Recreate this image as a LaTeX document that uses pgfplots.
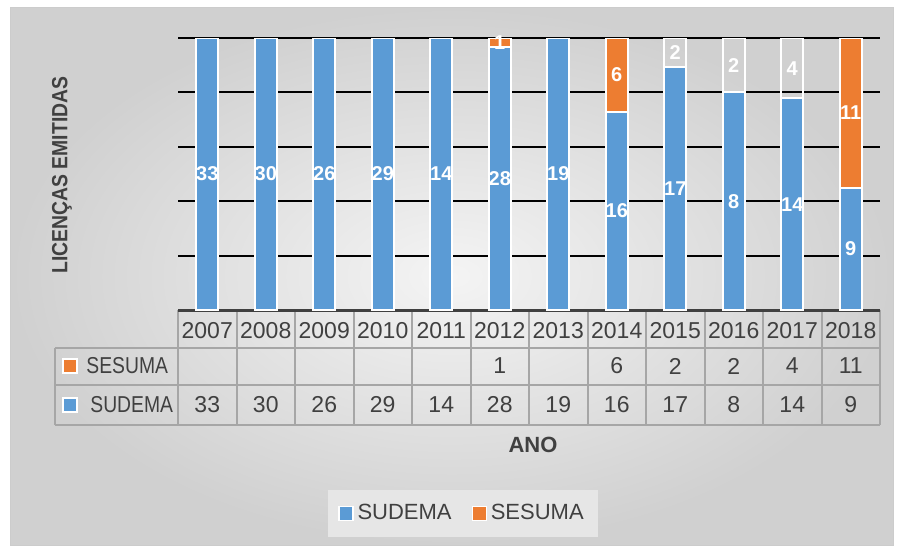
\documentclass[border=0pt]{standalone}
\usepackage{pgfplots}
\pgfplotsset{compat=1.18}
\usepackage{pgfplotstable}
\usepackage{graphicx}
\usepackage{fontspec}
\setmainfont{Liberation Sans}

\definecolor{sudema}{HTML}{5B9BD5}
\definecolor{sesuma}{HTML}{ED7D31}
\definecolor{txt}{HTML}{404040}
\definecolor{tblline}{HTML}{A6A6A6}
\definecolor{bgin}{HTML}{F4F4F4}
\definecolor{bgout}{HTML}{D0D0D0}
\definecolor{legbg}{HTML}{E6E6E6}

% licencas por ano; sesumaw = parte SESUMA desenhada sem preenchimento
\pgfplotstableread{
x year sudema sesuma sesumaw
0  2007 33 0  0
1  2008 30 0  0
2  2009 26 0  0
3  2010 29 0  0
4  2011 14 0  0
5  2012 28 1  0
6  2013 19 0  0
7  2014 16 6  0
8  2015 17 0  2
9  2016 8  0  2
10 2017 14 0  4
11 2018 9  11 0
}\licencas

\pgfplotsset{
  base/.style={
    at={(89pt,119pt)}, anchor=south west,
    scale only axis, width=351pt, height=136pt,
    xmin=-0.5, xmax=11.5, ymin=0, ymax=100,
    /pgf/number format/assume math mode=true,
  },
}

\begin{document}
\begin{tikzpicture}
\useasboundingbox (0,0) rectangle (452.5pt,274pt);
\fill[white] (0,0) rectangle (452.5pt,274pt);
\shade[inner color=bgin, outer color=bgout] (5pt,1.5pt) rectangle (446.5pt,270.5pt);
\draw[gray!40, line width=0.5pt] (5pt,1.5pt) rectangle (446.5pt,270.5pt);

% tabela de dados
\begin{scope}[tblline, line width=1pt]
  \draw (27.5pt,100pt) -- (440pt,100pt);
  \draw (27.5pt,81.5pt) -- (440pt,81.5pt);
  \draw (27.5pt,61.5pt) -- (440pt,61.5pt);
  \draw (27.5pt,100pt) -- (27.5pt,61.5pt);
  \foreach \k in {0,...,12} \draw ({89pt+\k*29.25pt},119pt) -- ({89pt+\k*29.25pt},61.5pt);
\end{scope}
\fill[sesuma, draw=white, line width=0.6pt] (31.5pt,87.5pt) rectangle (38.5pt,94.5pt);
\fill[sudema, draw=white, line width=0.6pt] (31.5pt,68pt) rectangle (38.5pt,75pt);
\node[anchor=west, text=txt, font=\fontsize{11.5}{13}\selectfont, inner sep=0pt] at (43pt,91pt) {\scalebox{0.84}[1]{SESUMA}};
\node[anchor=west, text=txt, font=\fontsize{11.5}{13}\selectfont, inner sep=0pt] at (45pt,71.5pt) {\scalebox{0.84}[1]{SUDEMA}};

\begin{axis}[
  base,
  ybar stacked,
  bar width=11pt,
  axis x line*=bottom,
  axis y line*=left,
  y axis line style={draw=none},
  x axis line style={-, draw=txt, line width=1.5pt},
  xtick={0,...,11},
  xticklabels from table={\licencas}{year},
  xticklabel style={anchor=center, yshift=-10.25pt, text=txt, font=\fontsize{11.5}{13}\selectfont},
  ytick={0,20,...,100},
  yticklabels={},
  major tick length=0pt,
  ymajorgrids,
  grid style={black, line width=1pt},
  legend style={at={(0.406,-0.748)}, anchor=center, draw=none,
    fill=legbg, inner xsep=5pt, inner ysep=5pt,
    font=\fontsize{11}{13}\selectfont, text=txt, legend columns=2,
    /tikz/every even column/.append style={column sep=8pt}},
  legend image code/.code={\draw[#1, line width=0.6pt] (0pt,-3.5pt) rectangle (7pt,3.5pt);},
]
\addplot[fill=sudema, draw=white, line width=1pt] table[x=x,
  y expr={100*\thisrow{sudema}/(\thisrow{sudema}+\thisrow{sesuma}+\thisrow{sesumaw})}] {\licencas};
\addlegendentry{SUDEMA}
\addplot[fill=sesuma, draw=white, line width=1pt] table[x=x,
  y expr={100*\thisrow{sesuma}/(\thisrow{sudema}+\thisrow{sesuma}+\thisrow{sesumaw})}] {\licencas};
\addlegendentry{SESUMA}
\addplot[fill=none, draw=white, line width=1pt, forget plot] table[x=x,
  y expr={100*\thisrow{sesumaw}/(\thisrow{sudema}+\thisrow{sesuma}+\thisrow{sesumaw})}] {\licencas};
\end{axis}

% rotulos das barras e valores da tabela
\begin{axis}[base, hide axis, clip=false,
  nodes near coords, nodes near coords align=center,
  every node near coord/.append style={inner sep=0pt}]
\addplot[draw=none, point meta=\thisrow{sudema},
  every node near coord/.append style={text=white, font=\bfseries\fontsize{10}{12}\selectfont}]
  table[x=x, y expr={50*\thisrow{sudema}/(\thisrow{sudema}+\thisrow{sesuma}+\thisrow{sesumaw})}] {\licencas};
\addplot[draw=none, point meta={\thisrow{sesuma}+\thisrow{sesumaw}}, restrict y to domain=-60:110,
  every node near coord/.append style={text=white, font=\bfseries\fontsize{10}{12}\selectfont}]
  table[x=x, y expr={(\thisrow{sesuma}+\thisrow{sesumaw})>0 ?
    (100*\thisrow{sudema}+50*(\thisrow{sesuma}+\thisrow{sesumaw}))/(\thisrow{sudema}+\thisrow{sesuma}+\thisrow{sesumaw}) : -1000}] {\licencas};
\addplot[draw=none, point meta=\thisrow{sudema},
  every node near coord/.append style={text=txt, font=\fontsize{11.5}{13}\selectfont}]
  table[x=x, y expr=-34.9] {\licencas};
\addplot[draw=none, point meta={\thisrow{sesuma}+\thisrow{sesumaw}}, restrict y to domain=-60:110,
  every node near coord/.append style={text=txt, font=\fontsize{11.5}{13}\selectfont}]
  table[x=x, y expr={(\thisrow{sesuma}+\thisrow{sesumaw})>0 ? -20.6 : -1000}] {\licencas};
\end{axis}

\node[rotate=90, text=txt, font=\bfseries\fontsize{11}{13}\selectfont] at (31pt,186.5pt)
  {\scalebox{0.88}[1]{LICENÇAS EMITIDAS}};
\node[text=txt, font=\bfseries\fontsize{11}{13}\selectfont] at (266.5pt,51.5pt) {ANO};
\end{tikzpicture}
\end{document}
